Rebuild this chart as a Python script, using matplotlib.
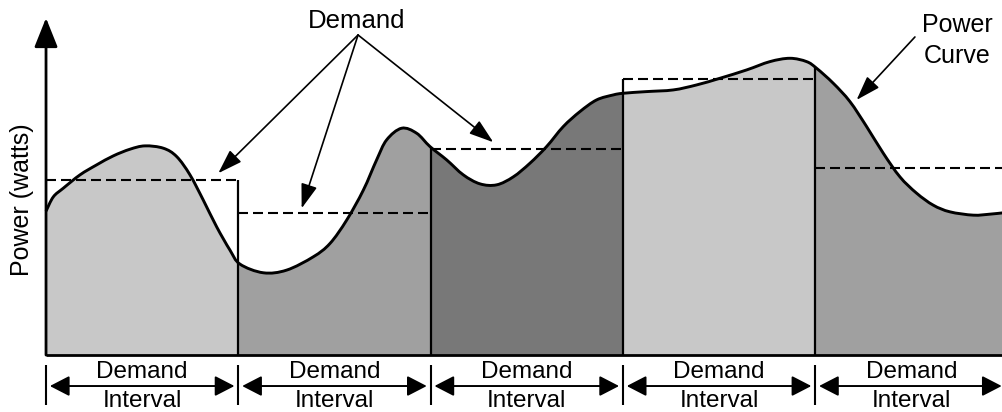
import matplotlib
matplotlib.use("Agg")
import matplotlib.pyplot as plt
from matplotlib.patches import Rectangle, FancyArrowPatch, PathPatch
from matplotlib.path import Path
import numpy as np

plt.rcParams["font.family"] = ["Liberation Sans", "DejaVu Sans"]
plt.rcParams["lines.scale_dashes"] = False

# Schematic power curve: time in minutes, power in arbitrary units
t = [0.0, 0.57, 1.35, 2.65, 3.95, 5.25, 6.55, 7.72, 9.15, 10.19, 11.23, 12.27,
     13.31, 14.35, 15.13, 16.95, 18.77, 20.85, 22.15, 23.45, 24.75, 25.79, 26.57,
     27.74, 28.91, 29.95, 31.25, 32.55, 33.85, 35.15, 36.45, 37.75, 39.05, 40.35,
     41.65, 42.95, 44.25, 45.03, 46.85, 48.93, 50.75, 52.57, 54.65, 56.47, 58.03,
     59.33, 60.11, 61.41, 62.71, 64.01, 65.31, 66.61, 67.91, 69.21, 70.51, 72.33,
     73.63, 74.65]
power = [43.2, 47.5, 50.1, 54.1, 57.1, 59.8, 61.8, 62.8, 62.1, 59.6, 54.1, 46.5,
         38.5, 31.5, 27.3, 24.7, 25.5, 29.5, 33.5, 40.5, 49.5, 58.6, 64.6,
         68.1, 66.6, 62.6, 58.6, 54.1, 51.4, 51.1, 53.5, 57.6, 62.6, 68.6,
         73.1, 76.6, 78.1, 78.6, 79.1, 79.6, 81.1, 83.1, 85.6, 88.1, 89.1,
         88.1, 86.1, 81.6, 76.1, 68.6, 60.6, 53.5, 48.6, 45.0, 43.0, 42.0,
         42.3, 42.7]

interval_len = 15
interval_starts = [0, 15, 30, 45, 60]
demand = [52.6, 42.6, 62.0, 83.0, 56.2]
fill_colors = ["#c8c8c8", "#a0a0a0", "#787878", "#c8c8c8", "#a0a0a0"]

t_end = 74.65


def smooth_path(xs, ys, close_to=None):
    # Catmull-Rom through the read points, drawn as cubic Bezier segments
    pts = np.column_stack([xs, ys])
    ext = np.vstack([pts[0], pts, pts[-1]])
    verts = [pts[0]]
    codes = [Path.MOVETO]
    for i in range(len(pts) - 1):
        p0, p1, p2, p3 = ext[i], ext[i + 1], ext[i + 2], ext[i + 3]
        verts += [p1 + (p2 - p0) / 6, p2 - (p3 - p1) / 6, p2]
        codes += [Path.CURVE4] * 3
    if close_to is not None:
        verts += [(xs[-1], close_to), (xs[0], close_to), pts[0]]
        codes += [Path.LINETO, Path.LINETO, Path.CLOSEPOLY]
    return Path(verts, codes)


fig = plt.figure(figsize=(10.03, 4.12), dpi=100)
ax = fig.add_axes([0, 0, 1, 1])
ax.set_xlim(-3.59, t_end)
ax.set_ylim(-17.1, 106.6)
ax.axis("off")

# shaded area under the curve, one colour per interval
for start, col in zip(interval_starts, fill_colors):
    patch = PathPatch(smooth_path(t, power, close_to=0), facecolor=col,
                      edgecolor="none", zorder=1)
    ax.add_patch(patch)
    patch.set_clip_path(Rectangle((start, -1), interval_len, 200, transform=ax.transData))

# demand levels (dashed)
for start, d in zip(interval_starts, demand):
    ax.hlines(d, start, min(start + interval_len, t_end), colors="black",
              linewidth=1.5, linestyles=(0, (7.2, 3.6)), zorder=3)

# interval separators
bounds = np.array(interval_starts[1:])
curve_at = np.interp(bounds, t, power)
tops = [max(c, demand[i], demand[i + 1]) for i, c in enumerate(curve_at)]
ax.vlines(bounds, 0, tops, colors="black", linewidth=1.6, zorder=4)

# power curve
ax.add_patch(PathPatch(smooth_path(t, power), facecolor="none", edgecolor="black",
                       linewidth=2.1, zorder=5, joinstyle="round"))

# axes
ax.plot([0, t_end], [0, 0], color="black", linewidth=2.0, zorder=6, solid_capstyle="butt")
ax.add_patch(FancyArrowPatch((0, 0), (0, 101.2), arrowstyle="-|>,head_length=1.8,head_width=0.72",
                             mutation_scale=10, color="black", linewidth=2.0,
                             shrinkA=0, shrinkB=0, zorder=6))
ax.text(-1.87, 46.5, "Power (watts)", rotation=90, ha="center", va="center", fontsize=18)

# bottom interval markers
ax.vlines(interval_starts, -3.0, -15.0, colors="black", linewidth=1.5)
for start in interval_starts:
    a = start + 0.3
    b = min(start + interval_len - 0.3, t_end - 0.1)
    ax.add_patch(FancyArrowPatch((a, -9.3), (b, -9.3),
                                 arrowstyle="<|-|>,head_length=1.2,head_width=0.62",
                                 mutation_scale=10, color="black", linewidth=1.4,
                                 shrinkA=0, shrinkB=0))
    mid = start + interval_len / 2
    ax.text(mid, -6.9, "Demand", ha="center", va="baseline", fontsize=17.5)
    ax.text(mid, -15.6, "Interval", ha="center", va="baseline", fontsize=17.5)

# callouts
ax.text(24.26, 98.2, "Demand", ha="center", va="baseline", fontsize=18.5)
for tx, ty in [(13.44, 54.6), (19.94, 44.05), (34.89, 63.9)]:
    ax.add_patch(FancyArrowPatch((24.34, 96.1), (tx, ty),
                                 arrowstyle="-|>,head_length=1.5,head_width=0.5",
                                 mutation_scale=10, color="black", linewidth=1.2,
                                 shrinkA=0, shrinkB=0, zorder=7))

ax.text(71.06, 97.0, "Power", ha="center", va="baseline", fontsize=18)
ax.text(71.06, 87.7, "Curve", ha="center", va="baseline", fontsize=18)
ax.add_patch(FancyArrowPatch((67.78, 95.5), (63.23, 76.6),
                             arrowstyle="-|>,head_length=1.5,head_width=0.5",
                             mutation_scale=10, color="black", linewidth=1.2,
                             shrinkA=0, shrinkB=0, zorder=7))

fig.savefig("out.png", dpi=100)
